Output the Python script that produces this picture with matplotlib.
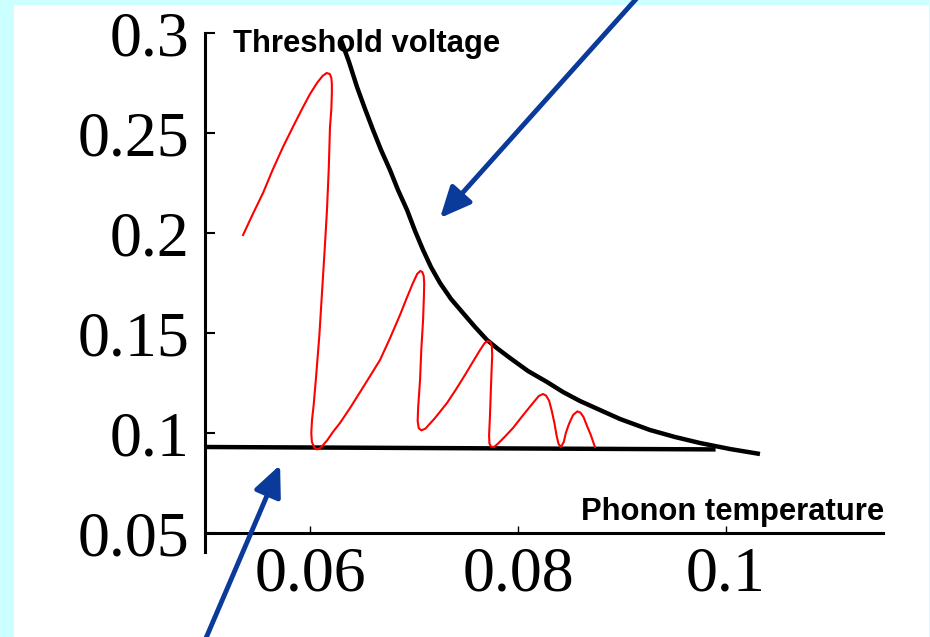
import matplotlib
matplotlib.use("Agg")
import matplotlib.pyplot as plt
from matplotlib.patches import Rectangle

# threshold voltage vs phonon temperature (black curve)
thresh_x = [0.06298, 0.06375, 0.06452, 0.06529, 0.06606, 0.06683, 0.06769, 0.06846,
            0.06933, 0.07010, 0.07087, 0.07163, 0.07250, 0.07356, 0.07471, 0.07587,
            0.07702, 0.07808, 0.07923, 0.08096, 0.08279, 0.08433, 0.08596, 0.08788,
            0.08981, 0.09269, 0.09510, 0.09750, 0.10038, 0.10327]
thresh_y = [0.2965, 0.2855, 0.2730, 0.2620, 0.2515, 0.2415, 0.2315, 0.2215,
            0.2115, 0.2010, 0.1915, 0.1830, 0.1750, 0.1670, 0.1600, 0.1530,
            0.1465, 0.1420, 0.1375, 0.1310, 0.1255, 0.1205, 0.1160, 0.1115,
            0.1070, 0.1015, 0.0980, 0.0950, 0.0920, 0.0895]

# lower flat branch
flat_x = [0.0499, 0.0990]
flat_y = [0.0930, 0.0918]

# oscillating trajectory (red)
traj_x = [0.05356, 0.0545, 0.05548, 0.0564, 0.0574, 0.0584, 0.05933, 0.0600, 0.06067,
          0.0612, 0.0616, 0.0619, 0.06205, 0.0621, 0.0621, 0.06205, 0.06192, 0.0618,
          0.06163, 0.0614, 0.06115, 0.0609, 0.06058, 0.06035, 0.06019, 0.06012, 0.06018,
          0.0604, 0.06067, 0.0610, 0.06163, 0.0622, 0.06288, 0.06385, 0.0653, 0.06673,
          0.0677, 0.06865, 0.0693, 0.06990, 0.0703, 0.0706, 0.0708, 0.07093, 0.07098,
          0.07095, 0.07087, 0.0707, 0.07058, 0.0704, 0.07035, 0.07045, 0.0707, 0.0711,
          0.07202, 0.07317, 0.0740, 0.07490, 0.07565, 0.07635, 0.0768, 0.0771, 0.07735,
          0.07748, 0.07752, 0.07745, 0.07738, 0.0773, 0.07722, 0.07725, 0.0774, 0.0777,
          0.0781, 0.0788, 0.07952, 0.0805, 0.08144, 0.0820, 0.0824, 0.0827, 0.0830,
          0.08325, 0.0835, 0.0837, 0.0839, 0.08413, 0.0844, 0.0846, 0.0849, 0.0853,
          0.0857, 0.0860, 0.0863, 0.0866, 0.0870, 0.0874]
traj_y = [0.1990, 0.2095, 0.2200, 0.2315, 0.2430, 0.2535, 0.2630, 0.2695, 0.2750,
          0.2785, 0.2800, 0.2795, 0.2775, 0.2745, 0.2700, 0.2620, 0.2530, 0.2320,
          0.2115, 0.1910, 0.1700, 0.1490, 0.1280, 0.1140, 0.1065, 0.1000, 0.0955,
          0.0928, 0.0918, 0.0925, 0.0962, 0.1005, 0.1050, 0.1125, 0.1245, 0.1365,
          0.1475, 0.1590, 0.1675, 0.1750, 0.1795, 0.1810, 0.1805, 0.1785, 0.1750,
          0.1680, 0.1565, 0.1415, 0.1265, 0.1130, 0.1060, 0.1025, 0.1013, 0.1022,
          0.1075, 0.1150, 0.1215, 0.1290, 0.1355, 0.1415, 0.1450, 0.1460, 0.1455,
          0.1435, 0.1390, 0.1300, 0.1200, 0.1080, 0.0990, 0.0948, 0.0932, 0.0930,
          0.0948, 0.0985, 0.1025, 0.1090, 0.1150, 0.1185, 0.1195, 0.1187, 0.1160,
          0.1110, 0.1050, 0.0990, 0.0945, 0.0930, 0.0955, 0.1000, 0.1045, 0.1090,
          0.1108, 0.1102, 0.1080, 0.1040, 0.0990, 0.0930]

xticks = [0.06, 0.08, 0.1]
xtick_labels = ["0.06", "0.08", "0.1"]
yticks = [0.05, 0.1, 0.15, 0.2, 0.25, 0.3]
ytick_labels = ["0.05", "0.1", "0.15", "0.2", "0.25", "0.3"]

fig = plt.figure(figsize=(9.3, 6.37), dpi=100)
fig.patch.set_facecolor("#ccffff")
panel = Rectangle((14 / 930, 0), 915 / 930, 632 / 637,
                  transform=fig.transFigure, facecolor="white",
                  edgecolor="none", zorder=-10)
fig.add_artist(panel)

ax = fig.add_axes([205 / 930, 85 / 637, 678 / 930, 519 / 637])
ax.set_zorder(1)
ax.patch.set_visible(False)
ax.set_xlim(0.0499, 0.1151)
ax.set_ylim(0.0405, 0.3)

for s in ["top", "right"]:
    ax.spines[s].set_visible(False)
ax.spines["left"].set_linewidth(2.2)
ax.spines["bottom"].set_linewidth(2.2)
ax.spines["bottom"].set_position(("data", 0.05))

ax.set_xticks(xticks)
ax.set_xticklabels(xtick_labels)
ax.set_yticks(yticks)
ax.set_yticklabels(ytick_labels)
ax.tick_params(axis="y", direction="in", length=7, width=1.5, pad=11)
ax.tick_params(axis="x", direction="in", length=5, width=1.0, pad=10)
for lab in ax.get_xticklabels() + ax.get_yticklabels():
    lab.set_fontfamily("Liberation Serif")
    lab.set_fontsize(46)

ax.plot(thresh_x, thresh_y, color="black", lw=3.2, solid_joinstyle="round",
        solid_capstyle="butt", zorder=3)
ax.plot(flat_x, flat_y, color="black", lw=3.2, solid_capstyle="butt", zorder=3)
ax.plot(traj_x, traj_y, color="red", lw=1.5, solid_joinstyle="round", zorder=4)

ax.text(0.0526, 0.2905, "Threshold voltage", fontsize=22.3, fontweight="bold",
        fontfamily="Liberation Sans", va="baseline", ha="left", zorder=5)
ax.text(0.1152, 0.0565, "Phonon temperature", fontsize=22.3, fontweight="bold",
        fontfamily="Liberation Sans", va="baseline", ha="right", zorder=5)

arrow_kw = dict(arrowstyle="-|>,head_length=1.1,head_width=0.5", color="#0a3a9a",
                lw=3.5, mutation_scale=17, shrinkA=0, shrinkB=0)
ax.annotate("", xy=(0.0725, 0.2075), xytext=(0.0917, 0.319),
            xycoords="data", textcoords="data", arrowprops=arrow_kw,
            annotation_clip=False)
ax.annotate("", xy=(0.05712, 0.084), xytext=(0.04971, -0.006),
            xycoords="data", textcoords="data", arrowprops=arrow_kw,
            annotation_clip=False)

fig.savefig("out.png", dpi=100, facecolor=fig.get_facecolor())
